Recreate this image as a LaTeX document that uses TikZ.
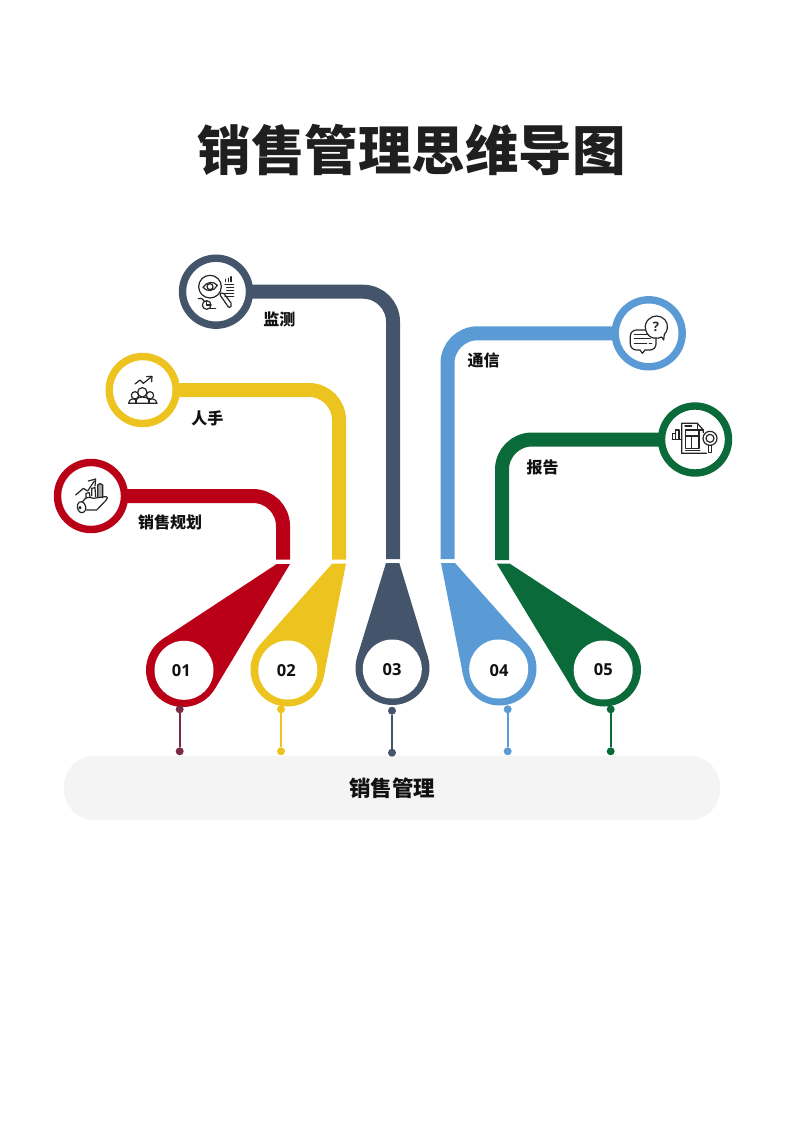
\documentclass[tikz,border=0pt]{standalone}
\usepackage{fontspec}
\newfontfamily\cjk{Noto Sans CJK SC}
\newfontfamily\digits{Open Sans}
\usetikzlibrary{calc}

\definecolor{salesred}{HTML}{BA0017}
\definecolor{salesyellow}{HTML}{EDC41F}
\definecolor{salesnavy}{HTML}{44546A}
\definecolor{salesblue}{HTML}{5B9BD5}
\definecolor{salesgreen}{HTML}{0B6A3A}
\definecolor{salesmaroon}{HTML}{7B2B40}
\definecolor{salesbar}{HTML}{F4F4F4}
\definecolor{saleslabel}{HTML}{111111}

\tikzset{
  ring/.style={circle,draw=#1,line width=7.4pt,fill=white,minimum size=67pt,inner sep=0pt,outer sep=0pt},
  branch/.style={draw=#1,line width=14pt,rounded corners=30pt},
  dropdisc/.style={circle,fill=#1,minimum size=74pt,inner sep=0pt,outer sep=0pt},
  dropface/.style={circle,fill=white,minimum size=59pt,inner sep=0pt,outer sep=0pt},
  numeral/.style={inner sep=0pt,font=\digits\bfseries\fontsize{16.5}{18}\selectfont,text=saleslabel},
  stud/.style={circle,fill=#1,minimum size=8pt,inner sep=0pt,outer sep=0pt},
  studline/.style={draw=#1,line width=2.2pt},
  caption/.style={inner sep=0pt,font=\cjk\bfseries\fontsize{16}{18}\selectfont,text=saleslabel},
  icon/.style={draw=black!85,line width=1.2pt,line join=round,line cap=round}
}

\begin{document}
\begin{tikzpicture}[x=1pt,y=-1pt]
\useasboundingbox (0,0) rectangle (800,1131);

% title
\node[inner sep=0pt,font=\cjk\bfseries\fontsize{53.5}{60}\selectfont,text=black!88] (title) at (411.5,150) {销售管理思维导图};

% base bar
\node[fill=salesbar,rounded corners=30pt,minimum width=656pt,minimum height=64pt,inner sep=0pt,font=\cjk\bfseries\fontsize{21.5}{24}\selectfont,text=saleslabel] (base) at (392,788) {销售管理};

% rings on top
\node[ring=salesred] (ring1) at (91,496) {};
\node[ring=salesyellow] (ring2) at (142.7,390) {};
\node[ring=salesnavy] (ring3) at (216,291.7) {};
\node[ring=salesblue] (ring4) at (648.7,333.3) {};
\node[ring=salesgreen] (ring5) at (695,439.5) {};

\coordinate (end1) at (283,559.5);
\coordinate (end2) at (339,559.5);
\coordinate (end3) at (393,559);
\coordinate (end4) at (447.5,559);
\coordinate (end5) at (502,560);

\draw[branch=salesred] (ring1) -| (end1);
\draw[branch=salesyellow] (ring2) -| (end2);
\draw[branch=salesnavy] (ring3) -| (end3);
\draw[branch=salesblue] (ring4) -| (end4);
\draw[branch=salesgreen] (ring5) -| (end5);

\node[caption] (cap1) at (170,522.3) {销售规划};
\node[caption] (cap2) at (207.3,418.3) {人手};
\node[caption] (cap3) at (279.3,319.3) {监测};
\node[caption] (cap4) at (483.7,360) {通信};
\node[caption] (cap5) at (542.7,467.3) {报告};

% drops
\node[dropdisc=salesred] (disc1) at (183,670) {};
\node[dropdisc=salesyellow] (disc2) at (287.5,669.5) {};
\node[dropdisc=salesnavy] (disc3) at (392.5,668) {};
\node[dropdisc=salesblue] (disc4) at (499.5,668.5) {};
\node[dropdisc=salesgreen] (disc5) at (604,669.5) {};

\coordinate (tipa1) at (276.7,564);
\coordinate (tipb1) at (290,564);
\coordinate (tipa2) at (332.3,563.5);
\coordinate (tipb2) at (346,563.5);
\coordinate (tipa3) at (386,563);
\coordinate (tipb3) at (399.3,563);
\coordinate (tipa4) at (441,563);
\coordinate (tipb4) at (455,563);
\coordinate (tipa5) at (496.7,563.5);
\coordinate (tipb5) at (509.5,563.5);

\fill[salesred] (tipa1) -- (tangent cs:node=disc1,point={(tipa1)},solution=1) -- (tangent cs:node=disc1,point={(tipb1)},solution=2) -- (tipb1) -- cycle;
\fill[salesyellow] (tipa2) -- (tangent cs:node=disc2,point={(tipa2)},solution=1) -- (tangent cs:node=disc2,point={(tipb2)},solution=2) -- (tipb2) -- cycle;
\fill[salesnavy] (tipa3) -- (tangent cs:node=disc3,point={(tipa3)},solution=1) -- (tangent cs:node=disc3,point={(tipb3)},solution=2) -- (tipb3) -- cycle;
\fill[salesblue] (tipa4) -- (tangent cs:node=disc4,point={(tipa4)},solution=1) -- (tangent cs:node=disc4,point={(tipb4)},solution=2) -- (tipb4) -- cycle;
\fill[salesgreen] (tipa5) -- (tangent cs:node=disc5,point={(tipa5)},solution=1) -- (tangent cs:node=disc5,point={(tipb5)},solution=2) -- (tipb5) -- cycle;

\node[dropface] (face1) at (184,670.3) {};
\node[dropface] (face2) at (287.8,670) {};
\node[dropface] (face3) at (392.3,669) {};
\node[dropface] (face4) at (498.7,669) {};
\node[dropface] (face5) at (603.2,670) {};

\node[numeral] (num1) at (181.3,670.7) {01};
\node[numeral] (num2) at (286.3,670.7) {02};
\node[numeral] (num3) at (392,669.3) {03};
\node[numeral] (num4) at (499,670.7) {04};
\node[numeral] (num5) at (603.3,669.3) {05};

% studs under the drops
\node[stud=salesmaroon] (studa1) at (179.7,709.3) {};
\node[stud=salesmaroon] (studb1) at (179.7,751.3) {};
\node[stud=salesyellow] (studa2) at (281,709.3) {};
\node[stud=salesyellow] (studb2) at (281,751.3) {};
\node[stud=salesnavy] (studa3) at (392,710.7) {};
\node[stud=salesnavy] (studb3) at (392,752.7) {};
\node[stud=salesblue] (studa4) at (507.7,709.3) {};
\node[stud=salesblue] (studb4) at (507.7,751.3) {};
\node[stud=salesgreen] (studa5) at (610.7,709.3) {};
\node[stud=salesgreen] (studb5) at (610.7,751.3) {};

\draw[studline=salesmaroon] (studa1) -- (studb1);
\draw[studline=salesyellow] (studa2) -- (studb2);
\draw[studline=salesnavy] (studa3) -- (studb3);
\draw[studline=salesblue] (studa4) -- (studb4);
\draw[studline=salesgreen] (studa5) -- (studb5);

% hand with bars
\begin{scope}[shift={(50,455)},x=0.3333pt,y=-0.3333pt,icon]
\draw (77,120) -- (100,100) -- (113,108) -- (133,78);
\draw (115,78) -- (137,72) -- (135,93);
\draw (108,128) -- (108,115) -- (118,113) -- (120,125);
\draw (125,122) -- (125,100) -- (135,98) -- (137,125);
\draw[fill=black!35] (143,125) -- (143,90) .. controls (146,84) and (155,84) .. (158,90) -- (158,128);
\draw (97,142) .. controls (105,125) and (118,125) .. (130,130) -- (165,125) .. controls (174,124) and (174,132) .. (168,136) -- (140,165) -- (110,165);
\draw[rounded corners=4pt] (78,148) -- (98,135) -- (112,165) -- (90,178) -- cycle;
\draw (90,158) circle (3);
\end{scope}

% people with arrow
\begin{scope}[shift={(100,350)},x=0.3333pt,y=-0.3333pt,icon]
\draw (105,102) -- (120,90) -- (130,100) -- (155,80);
\draw (140,80) -- (156,79) -- (155,95);
\draw (127,127) circle (14);
\draw (105,136) circle (11);
\draw (150,136) circle (11);
\draw[fill=white] (86,160) .. controls (88,145) and (100,145) .. (108,150) .. controls (110,138) and (144,138) .. (147,150) .. controls (155,145) and (168,145) .. (171,160) -- cycle;
\draw (108,160) -- (108,150);
\draw (147,160) -- (147,150);
\end{scope}

% magnifier with eye
\begin{scope}[shift={(175,250)},x=0.3333pt,y=-0.3333pt,icon]
\draw (105,110) circle (34);
\draw (84,112) .. controls (95,95) and (115,92) .. (127,106) .. controls (118,124) and (95,127) .. (84,112) -- cycle;
\draw (105,110) circle (9);
\draw[rounded corners=2pt] (133,132) -- (143,126) -- (172,164) -- (163,175) -- cycle;
\draw (152,95) -- (152,88);
\draw (160,95) -- (160,85);
\draw (168,95) -- (168,80);
\draw (150,103) -- (176,103);
\draw (155,112) -- (176,112);
\draw (155,121) -- (176,121);
\draw (145,130) -- (176,130);
\draw (150,139) -- (176,139);
\draw (95,165) circle (13);
\draw (95,152) -- (95,165) -- (107,165);
\draw (70,146) .. controls (76,142) and (84,146) .. (88,153);
\draw (105,175) -- (122,175);
\end{scope}

% speech bubbles
\begin{scope}[shift={(605,295)},x=0.3333pt,y=-0.3333pt,icon]
\draw (170,126) .. controls (160,132) and (130,135) .. (122,105) .. controls (115,78) and (140,62) .. (155,63) .. controls (175,63) and (190,80) .. (187,100) .. controls (186,108) and (182,114) .. (178,118) -- (176,135) -- cycle;
\node[inner sep=0pt,text=black!85,font=\digits\bfseries\fontsize{13}{14}\selectfont] (query) at (153,95) {?};
\draw[rounded corners=6pt] (122,105) -- (76,105) -- (76,165) -- (105,165);
\draw (105,165) -- (112,175) -- (120,165);
\draw[rounded corners=6pt] (120,165) -- (153,165) -- (153,130);
\draw (88,118) -- (130,118);
\draw (88,130) -- (136,130);
\draw (88,145) -- (125,145);
\draw (133,145) -- (140,145);
\end{scope}

% report with magnifier
\begin{scope}[shift={(650,400)},x=0.3333pt,y=-0.3333pt,icon]
\draw (160,98) -- (160,90) -- (142,70) -- (95,70) -- (95,160) -- (170,160);
\draw (142,70) -- (142,90) -- (160,90);
\draw (67,118) -- (67,100) -- (77,100) -- (77,118);
\draw (77,90) -- (87,90) -- (87,118);
\draw (67,118) -- (95,118);
\draw (77,100) -- (77,90);
\draw (105,78) -- (125,78);
\draw (107,90) rectangle (147,145);
\draw (107,108) -- (147,108);
\draw (125,108) -- (125,145);
\draw (107,152) -- (150,152);
\draw (180,115) circle (21);
\draw (180,115) circle (12);
\draw (175,136) -- (175,158) -- (185,158) -- (185,136);
\end{scope}
\end{tikzpicture}
\end{document}
